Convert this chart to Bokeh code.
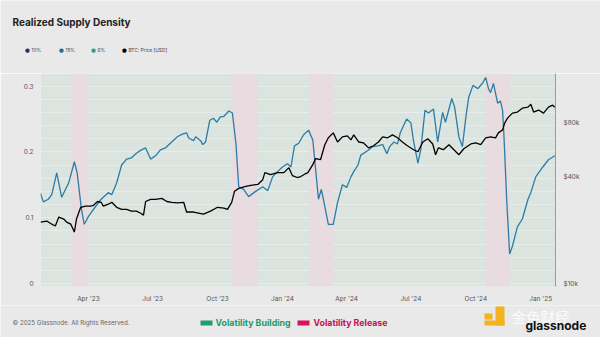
import pandas as pd
from datetime import datetime
from bokeh.plotting import figure
from bokeh.models import (Range1d, LogAxis, FixedTicker, MonthsTicker, DatetimeTickFormatter,
                          BoxAnnotation, Label, LogScale)
from bokeh.embed import file_html
from bokeh.resources import INLINE

# ---------------- data ----------------
density_dates = ["2023-01-23","2023-01-27","2023-02-03","2023-02-08","2023-02-15","2023-02-22","2023-03-04","2023-03-12",
    "2023-03-16","2023-03-22","2023-03-26","2023-04-01","2023-04-11","2023-04-19","2023-04-29","2023-05-04","2023-05-11",
    "2023-05-18","2023-05-25","2023-06-01","2023-06-08","2023-06-15","2023-06-21","2023-06-28","2023-07-05","2023-07-12",
    "2023-07-19","2023-07-28","2023-08-05","2023-08-12","2023-08-18","2023-08-21","2023-08-28","2023-08-31","2023-09-07",
    "2023-09-10","2023-09-14","2023-09-20","2023-09-25","2023-09-30","2023-10-05","2023-10-10","2023-10-17","2023-10-22",
    "2023-10-27","2023-10-31","2023-11-07","2023-11-14","2023-11-24","2023-12-04","2023-12-11","2023-12-18","2023-12-25",
    "2024-01-01","2024-01-08","2024-01-13","2024-01-18","2024-01-24","2024-01-31","2024-02-07","2024-02-13","2024-02-17",
    "2024-02-21","2024-02-25","2024-02-28","2024-03-06","2024-03-13","2024-03-19","2024-03-26","2024-04-01","2024-04-07",
    "2024-04-11","2024-04-17","2024-04-21","2024-05-01","2024-05-08","2024-05-15","2024-05-22","2024-05-28","2024-06-01",
    "2024-06-07","2024-06-12","2024-06-16","2024-06-25","2024-07-01","2024-07-05","2024-07-11","2024-07-15","2024-07-21",
    "2024-07-26","2024-08-02","2024-08-08","2024-08-15","2024-08-19","2024-08-28","2024-09-01","2024-09-07","2024-09-12",
    "2024-09-17","2024-09-21","2024-09-27","2024-10-04","2024-10-11","2024-10-15","2024-10-19","2024-10-22","2024-10-26",
    "2024-11-01","2024-11-05","2024-11-08","2024-11-10","2024-11-14","2024-11-18","2024-11-22","2024-11-29","2024-12-06",
    "2024-12-14","2024-12-18","2024-12-25","2025-01-04","2025-01-12","2025-01-21"]
density_15 = [0.137,0.124,0.128,0.135,0.168,0.131,0.153,0.185,
    0.168,0.113,0.090,0.102,0.117,0.128,0.138,0.135,0.153,
    0.180,0.189,0.191,0.198,0.203,0.206,0.189,0.194,0.203,
    0.206,0.215,0.223,0.227,0.229,0.221,0.217,0.223,0.217,
    0.211,0.215,0.248,0.251,0.245,0.253,0.254,0.262,0.259,
    0.213,0.147,0.143,0.132,0.140,0.147,0.141,0.162,0.170,
    0.177,0.182,0.177,0.209,0.213,0.226,0.233,0.218,0.173,
    0.128,0.143,0.128,0.090,0.090,0.123,0.150,0.146,0.162,
    0.170,0.180,0.195,0.202,0.208,0.209,0.211,0.197,0.208,
    0.215,0.212,0.229,0.250,0.244,0.215,0.183,0.203,0.263,
    0.259,0.265,0.215,0.260,0.245,0.281,0.268,0.223,0.208,
    0.253,0.283,0.301,0.296,0.305,0.313,0.296,0.290,0.304,
    0.274,0.277,0.263,0.223,0.123,0.045,0.057,0.086,0.098,
    0.128,0.138,0.162,0.177,0.188,0.194]

price_dates = ["2023-01-23","2023-02-01","2023-02-08","2023-02-13","2023-02-18","2023-02-25","2023-03-01","2023-03-07",
    "2023-03-12","2023-03-15","2023-03-21","2023-03-28","2023-04-04","2023-04-08","2023-04-14","2023-04-19","2023-04-22",
    "2023-04-29","2023-05-04","2023-05-11","2023-05-18","2023-05-25","2023-06-01","2023-06-08","2023-06-14","2023-06-18",
    "2023-06-21","2023-06-28","2023-07-05","2023-07-14","2023-07-21","2023-07-28","2023-08-05","2023-08-14","2023-08-18",
    "2023-08-28","2023-09-11","2023-09-21","2023-10-01","2023-10-10","2023-10-15","2023-10-21","2023-10-25","2023-10-31",
    "2023-11-10","2023-11-17","2023-11-27","2023-12-04","2023-12-07","2023-12-15","2023-12-25","2024-01-03","2024-01-10",
    "2024-01-15","2024-01-22","2024-01-27","2024-02-03","2024-02-06","2024-02-13","2024-02-17","2024-02-24","2024-03-01",
    "2024-03-06","2024-03-13","2024-03-19","2024-03-26","2024-04-02","2024-04-07","2024-04-11","2024-04-18","2024-04-25",
    "2024-05-02","2024-05-09","2024-05-16","2024-05-22","2024-05-29","2024-06-05","2024-06-12","2024-06-19","2024-06-26",
    "2024-07-05","2024-07-11","2024-07-18","2024-07-25","2024-08-01","2024-08-05","2024-08-09","2024-08-16","2024-08-24",
    "2024-08-31","2024-09-07","2024-09-14","2024-09-24","2024-10-01","2024-10-08","2024-10-15","2024-10-22","2024-10-29",
    "2024-11-02","2024-11-08","2024-11-11","2024-11-15","2024-11-22","2024-11-29","2024-12-06","2024-12-14","2024-12-18",
    "2024-12-22","2024-12-29","2025-01-05","2025-01-12","2025-01-18","2025-01-21"]
btc_price = [22200,22500,21600,21100,23700,23100,22200,21600,
    19500,23100,26900,27300,27300,27600,29000,28700,27300,
    28000,28700,26900,26200,26200,25600,25600,24900,24300,
    29000,29800,29800,30200,29000,28700,28500,28700,25300,
    25300,24600,25600,26900,26600,26200,28700,33100,34400,
    35300,35800,36200,38500,42200,41100,42200,42200,45000,
    40600,39600,40100,41700,42200,46800,50600,50000,60600,
    66300,70700,62800,67100,68000,64600,68900,62800,62000,
    58200,59800,62800,67100,66300,68900,66300,62800,59800,
    56800,55300,62800,65500,61200,53200,58200,56800,60600,
    56800,53200,57500,61200,62000,60600,66300,67100,66300,
    70700,73500,80400,85600,91400,92600,97400,98700,102600,
    92600,95100,91400,98700,101300,98700]

release_starts = ["2023-03-08","2023-10-21","2024-02-08","2024-10-15"]
release_ends = ["2023-04-01","2023-11-27","2024-03-13","2024-11-18"]

left_ticks = [0, 0.1, 0.2, 0.3]
price_ticks = [10000, 40000, 80000]
price_tick_labels = {10000: "$10k", 40000: "$40k", 80000: "$80k"}

legend_names = ["10%", "15%", "6%", "BTC: Price [USD]"]
legend_colors = ["#2e2a6e", "#1f6b9c", "#2a9d8f", "#000000"]

# ---------------- styling ----------------
FONT = "Inter"
PAGE = "#e9e9e9"
W = 600
FRAME_L, FRAME_R = 40, 555
TOP_H = 73      # header strip
MAIN_H = 232    # main chart (frame from 73 to 288)
BOT_H = 337 - TOP_H - MAIN_H


def strip(height, y_top):
    f = figure(width=W, height=height, output_backend="svg", toolbar_location=None,
               x_range=Range1d(0, W), y_range=Range1d(y_top + height, y_top),
               x_axis_type=None, y_axis_type=None, min_border=0)
    f.background_fill_color = PAGE
    f.border_fill_color = PAGE
    f.outline_line_color = None
    f.xgrid.grid_line_color = None
    f.ygrid.grid_line_color = None
    return f


def lab(f, text, x, y, size, color, bold=False, align="left", font=FONT, alpha=1.0):
    f.add_layout(Label(x=x, y=y, text=text, text_font=font, text_font_size=f"{size}px",
                       text_color=color, text_alpha=alpha,
                       text_font_style="bold" if bold else "normal",
                       text_align=align, text_baseline="middle"))


def box(f, x0, y0, x1, y1, color):
    f.add_layout(BoxAnnotation(left=x0, right=x1, top=y0, bottom=y1, fill_color=color,
                               fill_alpha=1.0, line_color=None))

# ---------------- header ----------------
top = strip(TOP_H, 0)
lab(top, "Realized Supply Density", 12, 21, 10, "#222222", bold=True)
for name, col, x in zip(legend_names, legend_colors, [27, 61, 93, 124]):
    lab(top, "\u25cf", x, 49, 5.5, col, font="DejaVu Sans", align="center")
    lab(top, name, x + 4, 49, 4.8, "#444444")

# ---------------- main chart ----------------
p = figure(width=W, height=MAIN_H, x_axis_type="datetime", output_backend="svg", toolbar_location=None,
           x_range=Range1d(datetime(2023, 1, 23), datetime(2025, 1, 22)),
           y_range=Range1d(-0.0045, 0.319),
           min_border_left=FRAME_L, min_border_right=W - FRAME_R, min_border_top=0, min_border_bottom=17)
p.background_fill_color = "#dbe4df"
p.border_fill_color = PAGE
p.outline_line_color = None

p.extra_y_ranges = {"price": Range1d(9620, 152800)}
p.extra_y_scales = {"price": LogScale()}


def ms(s):
    return pd.Timestamp(s).timestamp() * 1000


for s, e in zip(release_starts, release_ends):
    p.add_layout(BoxAnnotation(left=ms(s), right=ms(e), fill_color="#e8dce0", fill_alpha=1.0,
                               line_color=None, level="underlay"))

p.xgrid.grid_line_color = None
p.ygrid.ticker = FixedTicker(ticks=[i * 0.02 for i in range(0, 17)])
p.ygrid.grid_line_color = "#ffffff"
p.ygrid.grid_line_alpha = 0.35
p.ygrid.level = "underlay"

ax = p.xaxis[0]
ax.ticker = MonthsTicker(months=[0, 3, 6, 9])
ax.formatter = DatetimeTickFormatter(months="%b '%y", years="%b '%y", days="%b '%y")
ax.axis_line_color = None
ax.major_tick_line_color = None
ax.minor_tick_line_color = None
ax.major_tick_out = 0
ax.minor_tick_out = 0
ax.major_label_text_font_size = "6.5px"
ax.major_label_text_color = "#555555"
ax.major_label_text_font = FONT
ax.major_label_standoff = 8

ay = p.yaxis[0]
ay.ticker = FixedTicker(ticks=left_ticks)
ay.major_label_overrides = {0: "0", 0.1: "0.1", 0.2: "0.2", 0.3: "0.3"}
ay.axis_line_color = None
ay.major_tick_line_color = None
ay.minor_tick_line_color = None
ay.major_tick_out = 0
ay.major_label_text_font_size = "6.5px"
ay.major_label_text_color = "#555555"
ay.major_label_text_font = FONT
ay.major_label_standoff = 7

ry = LogAxis(y_range_name="price", ticker=FixedTicker(ticks=price_ticks))
ry.major_label_overrides = price_tick_labels
ry.axis_line_color = "#9a9a9a"
ry.major_tick_line_color = None
ry.minor_tick_line_color = None
ry.major_tick_out = 0
ry.major_label_text_font_size = "6.5px"
ry.major_label_text_color = "#555555"
ry.major_label_text_font = FONT
ry.major_label_standoff = 8
p.add_layout(ry, "right")

p.line(pd.to_datetime(density_dates), density_15, line_color="#2b7da6", line_width=1.3)
p.line(pd.to_datetime(price_dates), btc_price, y_range_name="price", line_color="#000000", line_width=1.3)

# ---------------- footer ----------------
bot = strip(BOT_H, TOP_H + MAIN_H)
lab(bot, "\u00a9 2025 Glassnode. All Rights Reserved.", 12, 322, 6.2, "#666666")
box(bot, 200, 320, 212, 325, "#1f9e70")
lab(bot, "Volatility Building", 215, 322, 8.8, "#1f9a6c", bold=True)
box(bot, 297, 320, 309, 325, "#d8145a")
lab(bot, "Volatility Release", 313, 322, 8.8, "#c8104c", bold=True)
box(bot, 484, 313, 492, 319, "#f3b21f")
box(bot, 495, 306, 504, 325, "#f3b21f")
box(bot, 484, 320, 504, 325, "#f3b21f")
lab(bot, "\u91d1\u8272\u8d22\u7ecf", 511, 316, 14.5, "#ffffff", font="Noto Sans CJK SC", alpha=0.85)
lab(bot, "glassnode", 525, 325, 12, "#111111", bold=True)

# three separate roots stacked on the page (no frame alignment between them)
open("out.html", "w").write(file_html([top, p, bot], INLINE))
